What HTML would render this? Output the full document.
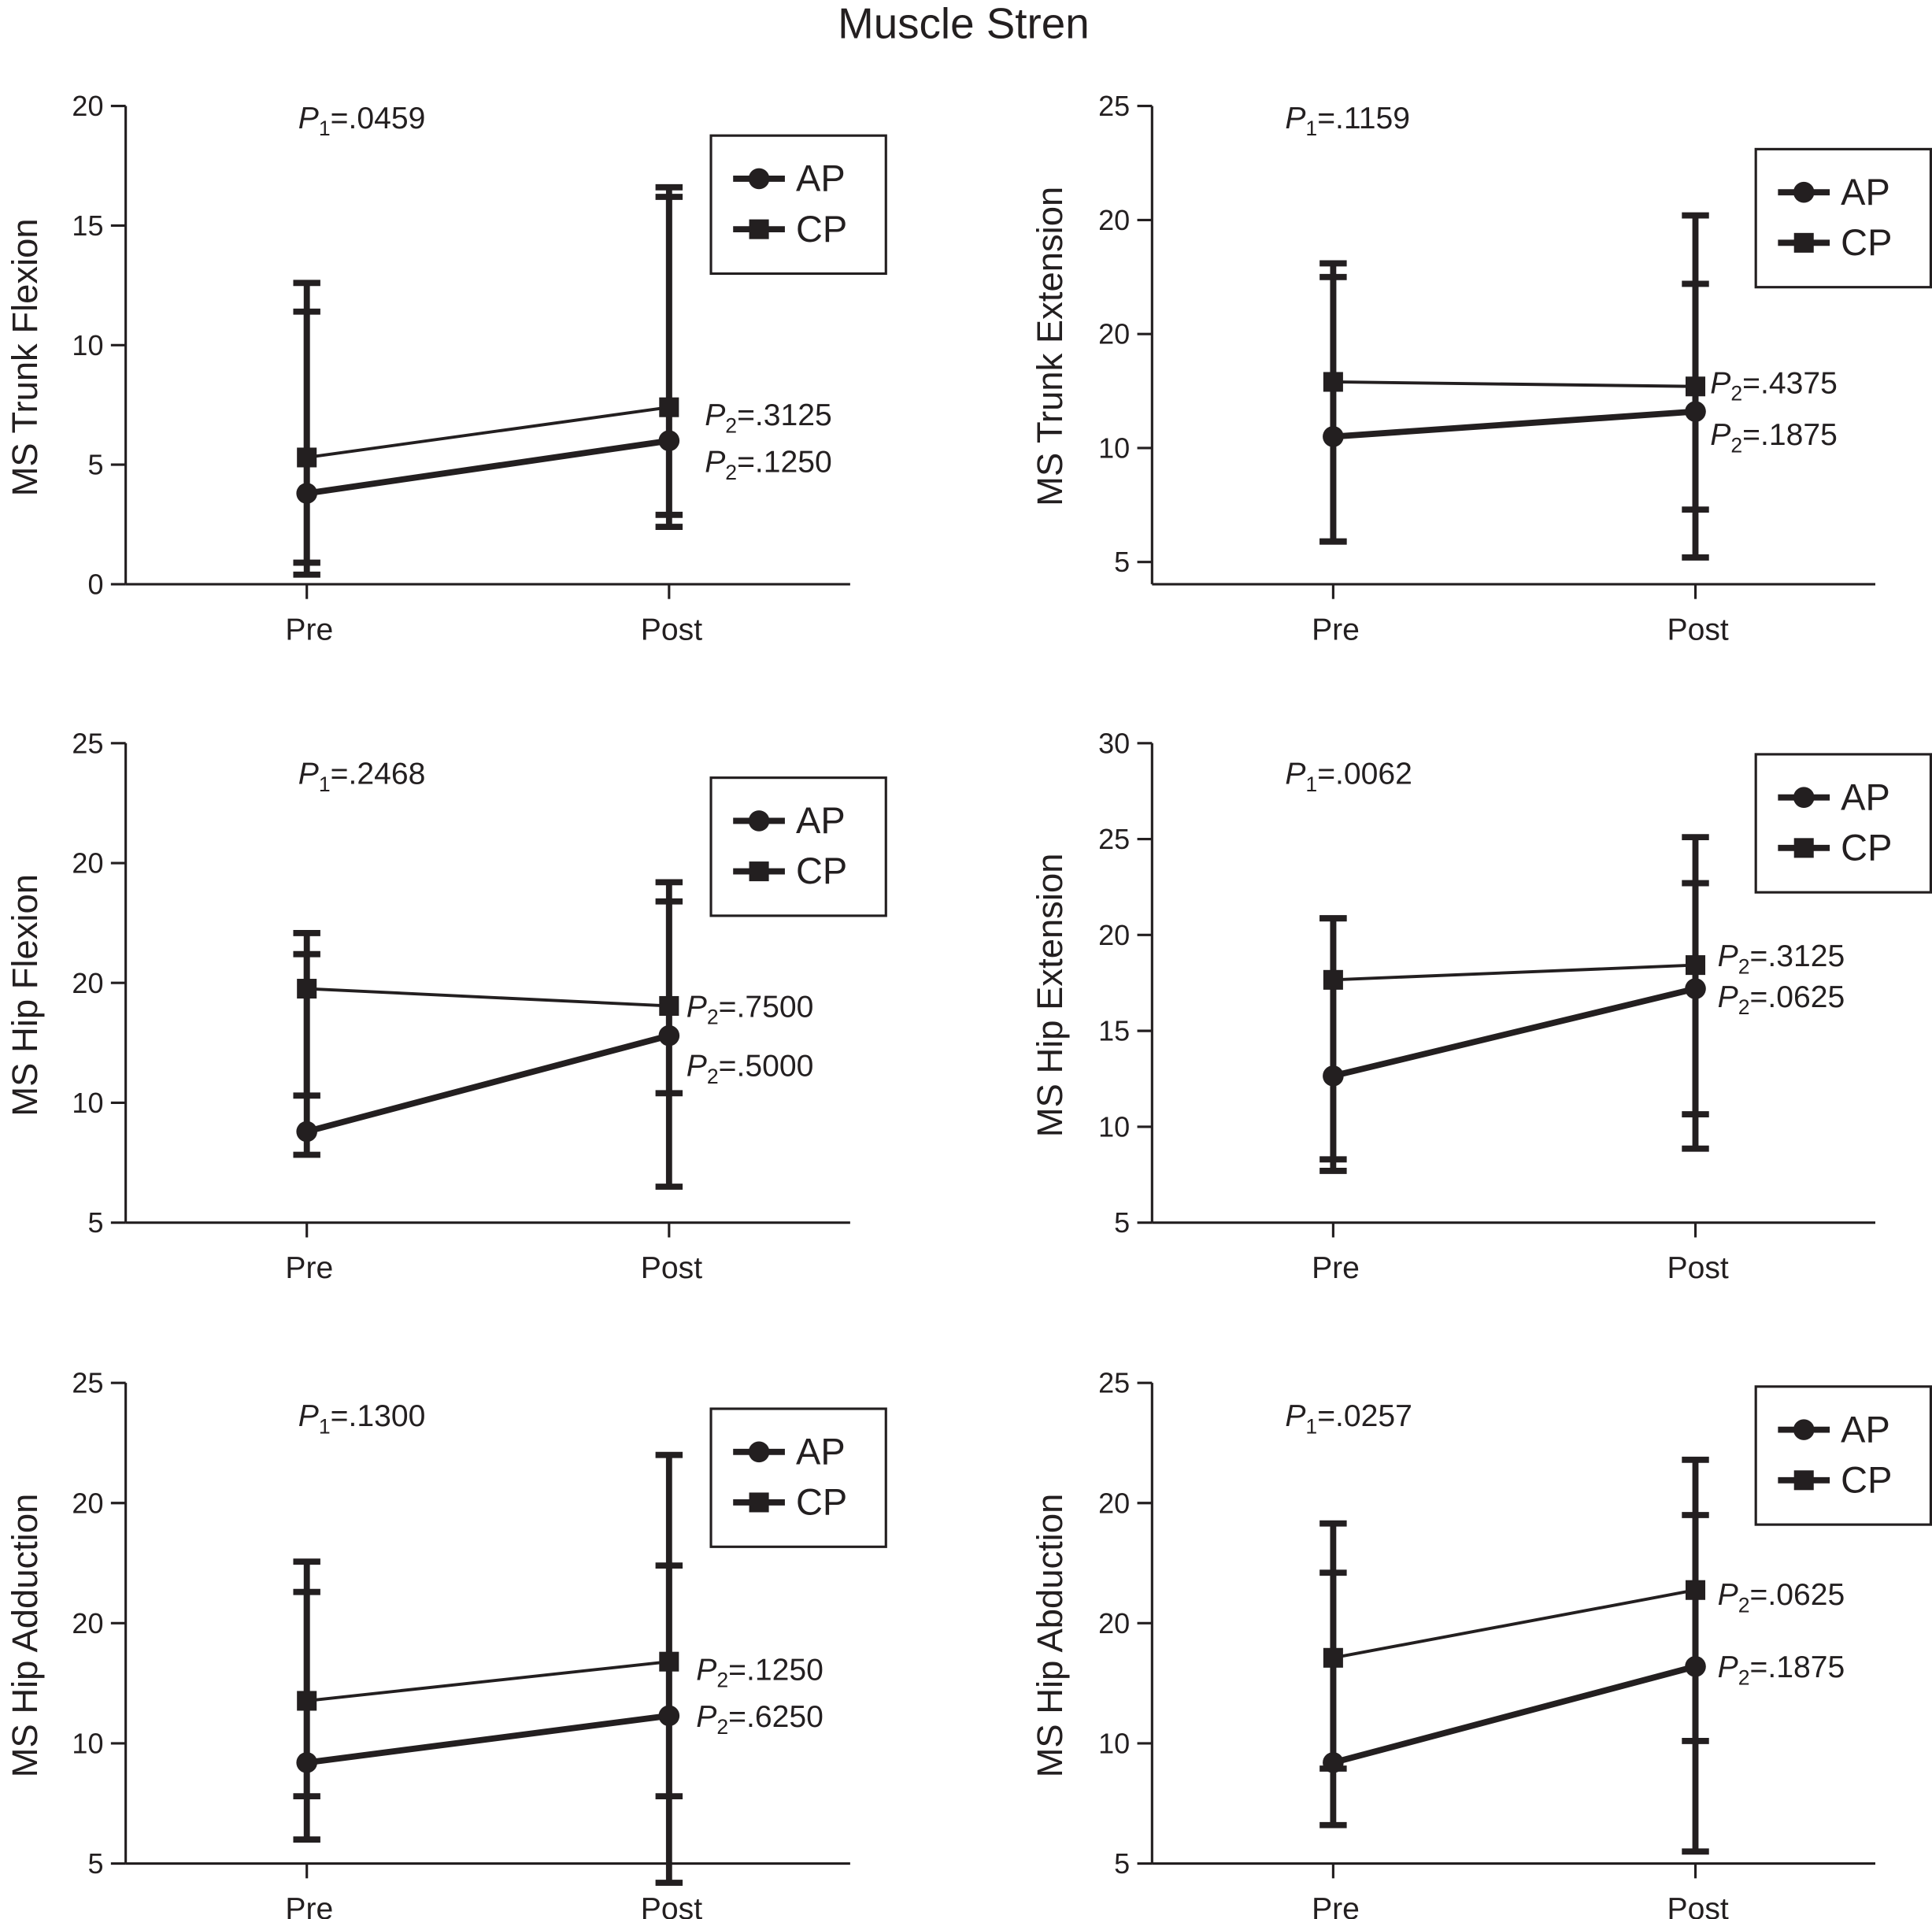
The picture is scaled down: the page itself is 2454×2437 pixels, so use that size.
<!DOCTYPE html>
<html><head><meta charset="utf-8">
<style>
html,body{margin:0;padding:0;background:#fff;}
svg{display:block;font-family:"Liberation Sans",Arial,sans-serif;}
</style></head>
<body>
<svg id="chart" width="2454" height="2437" viewBox="0 0 1568 1557" preserveAspectRatio="none" xmlns="http://www.w3.org/2000/svg">
<text x="782" y="31" font-size="35" text-anchor="middle" fill="#231f20">Muscle Stren</text>
</svg>
<script>
// ---- data ----
const categories = ["Pre", "Post"];
const panelTitles = ["MS Trunk Flexion", "MS Trunk Extension", "MS Hip Flexion", "MS Hip Extension", "MS Hip Adduction", "MS Hip Abduction"];
const tickValues = [[0,5,10,15,20],[5,10,15,20,25],[5,10,15,20,25],[5,10,15,20,25,30],[5,10,15,20,25],[5,10,15,20,25]];
const tickLabels = [["0","5","10","15","20"],["5","10","20","20","25"],["5","10","20","20","25"],["5","10","15","20","25","30"],["5","10","20","20","25"],["5","10","20","20","25"]];
const yMin = [0,5,5,5,5,5];
const yMax = [20,25,25,30,25,25];
const apValues = [[3.8,6.0],[10.5,11.6],[8.8,12.8],[12.65,17.2],[9.2,11.15],[9.2,13.2]];
const cpValues = [[5.3,7.4],[12.9,12.7],[14.76,14.04],[17.66,18.43],[11.77,13.4],[13.56,16.38]];
const apUpper = [[11.4,16.2],[17.5,17.2],[16.2,18.4],[20.87,22.7],[16.3,17.4],[17.1,19.5]];
const apLower = [[0.4,2.4],[5.9,7.3],[7.83,6.5],[7.7,8.86],[6.0,4.2],[6.6,5.5]];
const cpUpper = [[12.6,16.6],[18.1,20.2],[17.08,19.2],[20.87,25.1],[17.56,22.0],[19.15,21.8]];
const cpLower = [[0.9,2.9],[5.9,5.2],[10.3,10.4],[8.3,10.65],[7.8,7.8],[8.95,10.1]];
const p1Labels = [".0459",".1159",".2468",".0062",".1300",".0257"];
const p2CpLabels = [".3125",".4375",".7500",".3125",".1250",".0625"];
const p2ApLabels = [".1250",".1875",".5000",".0625",".6250",".1875"];

// ---- layout ----
const svg = document.getElementById('chart');
const NS = "http://www.w3.org/2000/svg";
const COL = "#231f20";
const lay = [
 {ax:102, top:86, bot:474, xEnd:690, pre:249, post:543, yl:30, p1x:242, p1y:95, p2x:572, p2y:[336,374], leg:[577,110]},
 {ax:935, top:86, bot:456, xAxisY:474, xEnd:1522, pre:1082, post:1376, yl:862, p1x:1043, p1y:95, p2x:1388, p2y:[310,352], leg:[1425,121]},
 {ax:102, top:603, bot:992, xEnd:690, pre:249, post:543, yl:30, p1x:242, p1y:627, p2x:557, p2y:[816,864], leg:[577,631]},
 {ax:935, top:603, bot:992, xEnd:1522, pre:1082, post:1376, yl:862, p1x:1043, p1y:627, p2x:1394, p2y:[775,808], leg:[1425,612]},
 {ax:102, top:1122, bot:1512, xEnd:690, pre:249, post:543, yl:30, p1x:242, p1y:1148, p2x:565, p2y:[1354,1392], leg:[577,1143]},
 {ax:935, top:1122, bot:1512, xEnd:1522, pre:1082, post:1376, yl:862, p1x:1043, p1y:1148, p2x:1394, p2y:[1293,1352], leg:[1425,1125]}
];
function mk(tag, attrs, parent){const e=document.createElementNS(NS,tag);for(const k in attrs)e.setAttribute(k,attrs[k]);(parent||svg).appendChild(e);return e;}
function p2text(g,x,y,val){
  const t=mk('text',{x:x,y:y,'font-size':25,fill:COL},g);
  
  
  const a=mk('tspan',{'font-style':'italic'},t);a.textContent='P';
  const b=mk('tspan',{'font-size':17,dy:6},t);b.textContent='2';
  const c=mk('tspan',{dy:-6},t);c.textContent='='+val;
}

lay.forEach((L,i)=>{
  const g=mk('g',{});
  
  
  const y=v=>L.bot-(v-yMin[i])/(yMax[i]-yMin[i])*(L.bot-L.top);
  const xs=[L.pre,L.post];
  const xAxisY=L.xAxisY||L.bot;
  const ya=mk('line',{x1:L.ax,y1:L.top,x2:L.ax,y2:xAxisY,stroke:COL,'stroke-width':2},g);
  
  
  tickValues[i].forEach((tv,k)=>{
    const ty=y(tv);
    mk('line',{x1:L.ax-12,y1:ty,x2:L.ax,y2:ty,stroke:COL,'stroke-width':2},g);
    const t=mk('text',{x:L.ax-18,y:ty+8,'font-size':23,'text-anchor':'end',fill:COL},g);
    
    
    t.textContent=tickLabels[i][k];
  });
  const xa=mk('line',{x1:L.ax,y1:xAxisY,x2:L.xEnd,y2:xAxisY,stroke:COL,'stroke-width':2},g);
  
  
  categories.forEach((c,k)=>{
    mk('line',{x1:xs[k],y1:xAxisY,x2:xs[k],y2:xAxisY+12,stroke:COL,'stroke-width':2},g);
    const t=mk('text',{x:xs[k]+2,y:xAxisY+45,'font-size':25,'text-anchor':'middle',fill:COL},g);
    
    
    t.textContent=c;
  });
  const cy=(L.top+L.bot)/2;
  const yt=mk('text',{x:L.yl,y:cy+10,'font-size':29,'text-anchor':'middle',fill:COL,transform:`rotate(-90 ${L.yl} ${cy+10})`},g);
  
  
  yt.textContent=panelTitles[i];
  [[cpUpper,cpLower],[apUpper,apLower]].forEach(([U,Lo])=>{
    xs.forEach((x,k)=>{
      const e=mk('line',{x1:x,y1:y(U[i][k]),x2:x,y2:y(Lo[i][k]),stroke:COL,'stroke-width':5},g);
      
      
      [U[i][k],Lo[i][k]].forEach(v=>mk('line',{x1:x-11,y1:y(v),x2:x+11,y2:y(v),stroke:COL,'stroke-width':5},g));
    });
  });
  const cl=mk('line',{x1:xs[0],y1:y(cpValues[i][0]),x2:xs[1],y2:y(cpValues[i][1]),stroke:COL,'stroke-width':2.5},g);
  
  
  const al=mk('line',{x1:xs[0],y1:y(apValues[i][0]),x2:xs[1],y2:y(apValues[i][1]),stroke:COL,'stroke-width':5},g);
  
  
  xs.forEach((x,k)=>{
    const s=mk('rect',{x:x-8,y:y(cpValues[i][k])-8,width:16,height:16,fill:COL},g);
    
    
    const c=mk('circle',{cx:x,cy:y(apValues[i][k]),r:8.5,fill:COL},g);
    
    
  });
  const p=mk('text',{x:L.p1x,y:L.p1y+9,'font-size':25,fill:COL},g);
  
  
  const a=mk('tspan',{'font-style':'italic'},p);a.textContent='P';
  const b=mk('tspan',{'font-size':17,dy:6},p);b.textContent='1';
  const c2=mk('tspan',{dy:-6},p);c2.textContent='='+p1Labels[i];
  p2text(g,L.p2x,L.p2y[0]+9,p2CpLabels[i]);
  p2text(g,L.p2x,L.p2y[1]+9,p2ApLabels[i]);
  const [lx,ly]=L.leg;
  const lg=mk('g',{},g);
  
  
  mk('rect',{x:lx,y:ly,width:142,height:112,fill:'#fff',stroke:COL,'stroke-width':2},lg);
  mk('line',{x1:lx+18,y1:ly+35,x2:lx+60,y2:ly+35,stroke:COL,'stroke-width':5},lg);
  mk('circle',{cx:lx+39,cy:ly+35,r:8.5,fill:COL},lg);
  const t1=mk('text',{x:lx+69,y:ly+45,'font-size':30,fill:COL},lg);t1.textContent='AP';
  
  
  mk('line',{x1:lx+18,y1:ly+76,x2:lx+60,y2:ly+76,stroke:COL,'stroke-width':5},lg);
  mk('rect',{x:lx+31,y:ly+68,width:16,height:16,fill:COL},lg);
  const t2=mk('text',{x:lx+69,y:ly+86,'font-size':30,fill:COL},lg);t2.textContent='CP';
  
  
});
</script>
</body></html>
